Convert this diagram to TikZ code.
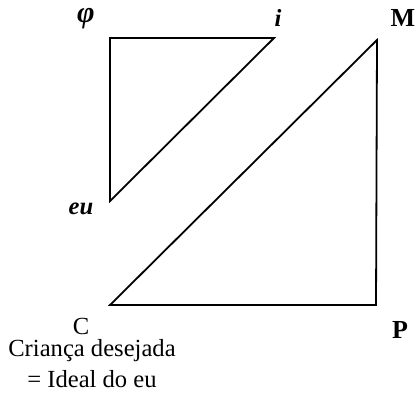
\documentclass[tikz,border=0pt]{standalone}
\usepackage{fontspec}
\setmainfont{Liberation Serif}
\usetikzlibrary{calc}

\begin{document}
\begin{tikzpicture}[x=0.5pt,y=-0.5pt,
  edge/.style={line width=0.9pt, line join=miter},
  lbl/.style={font=\fontsize{12.3}{14}\selectfont\bfseries, inner sep=0pt},
  lblit/.style={lbl, font=\fontsize{12.3}{14}\selectfont\bfseries\itshape}]

\useasboundingbox (0,0) rectangle (415,392);

% --- Corners of the two triangles ---
\coordinate (phiC) at (110,38);
\coordinate (iC)   at (274,38);
\coordinate (euC)  at (110,201);
\coordinate (mC)   at (377,40);
\coordinate (pC)   at (376,305);
\coordinate (cC)   at (110,305);

% --- Small triangle (phi, i, eu) ---
\draw[edge] (phiC) -- (iC) -- (euC) -- cycle;

% --- Big triangle (M, P, C) ---
\draw[edge] (mC) -- (pC) -- (cC) -- cycle;

% --- Corner labels ---
\node[lblit, font=\fontsize{15}{16}\selectfont\bfseries\itshape] (phi) at (86,19) {φ};
\node[lblit] (i)   at (278,18) {i};
\node[lbl, font=\fontsize{13}{14}\selectfont\bfseries] (M) at (403,18) {M};
\node[lblit] (eu)  at (81,209) {eu};
\node[lbl, font=\fontsize{12.3}{14}\selectfont] (C) at (81,326) {C};
\node[lbl, font=\fontsize{13}{14}\selectfont\bfseries] (P) at (400,330) {P};

% --- Caption under C ---
\node[font=\fontsize{12.3}{15.5}\selectfont, align=center, inner sep=0pt,
      anchor=north] (ideal) at (92,339)
  {Criança desejada\\= Ideal do eu};

\end{tikzpicture}
\end{document}
